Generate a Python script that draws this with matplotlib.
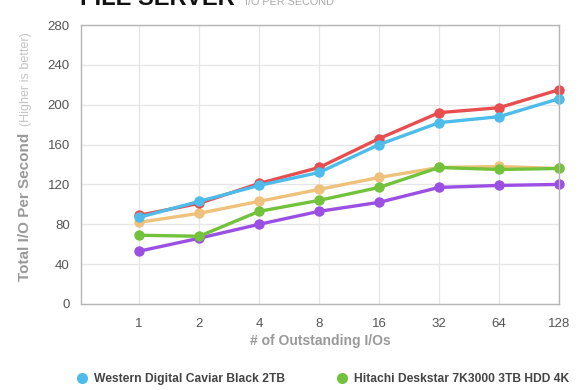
import matplotlib.pyplot as plt
from matplotlib.lines import Line2D

plt.rcParams["font.family"] = ["Liberation Sans", "DejaVu Sans"]

categorias = ["1", "2", "4", "8", "16", "32", "64", "128"]

vermelho = [89, 101, 121, 137, 166, 192, 197, 215]
azul = [87, 103, 119, 132, 160, 182, 188, 206]
laranja = [82, 91, 103, 115, 127, 137, 138, 136]
verde = [69, 68, 93, 104, 117, 137, 135, 136]
roxo = [53, 66, 80, 93, 102, 117, 119, 120]

nome_azul = "Western Digital Caviar Black 2TB"
nome_verde = "Hitachi Deskstar 7K3000 3TB HDD 4K"

cores = {
    "vermelho": "#e84d4f",
    "azul": "#4dbcea",
    "laranja": "#efc27c",
    "verde": "#72c23c",
    "roxo": "#9b4fe3",
}

fig = plt.figure(figsize=(5.8, 3.9), dpi=100)
ax = fig.add_axes([81 / 580, 1 - 304 / 390, (559 - 81) / 580, (304 - 25) / 390])

xs = list(range(len(categorias)))
series = [
    (roxo, cores["roxo"]),
    (laranja, cores["laranja"]),
    (verde, cores["verde"]),
    (vermelho, cores["vermelho"]),
    (azul, cores["azul"]),
]
for valores, cor in series:
    ax.plot(xs, valores, color=cor, lw=2.4, marker="o", ms=7.5,
            markeredgewidth=0, solid_capstyle="round", clip_on=False)

ax.set_xlim(-0.97, 7)
ax.set_ylim(0, 280)
ax.set_yticks(range(0, 281, 40))
ax.set_xticks(xs)
ax.set_xticklabels(categorias)
ax.tick_params(length=0, labelsize=9.5, colors="#555555", pad=10)
ax.tick_params(axis="y", pad=8)
ax.grid(True, color="#e6e6e6", lw=0.9)
ax.set_axisbelow(True)
for lado in ax.spines.values():
    lado.set_color("#b5b5b5")
    lado.set_linewidth(1)

fig.text(0.5 * (81 + 559) / 580, 1 - 341 / 390, "# of Outstanding I/Os",
         ha="center", va="center", fontsize=10, fontweight="bold", color="#999999")

fig.text(25 / 580, 1 - 207 / 390, "Total I/O Per Second", rotation=90,
         ha="center", va="center", fontsize=11, fontweight="bold", color="#999999")
fig.text(26 / 580, 1 - 79 / 390, "(Higher is better)", rotation=90,
         ha="center", va="center", fontsize=9, color="#c4c4c4")

fig.text(80 / 580, 1 - 5 / 390, "FILE SERVER", ha="left", va="baseline",
         fontsize=17, fontweight="bold", color="#111111")
fig.text(245 / 580, 1 - 5 / 390, "I/O PER SECOND", ha="left", va="baseline",
         fontsize=7.8, color="#aaaaaa")

itens = [
    Line2D([], [], ls="none", marker="o", ms=8, markeredgewidth=0, color=cores["azul"]),
    Line2D([], [], ls="none", marker="o", ms=8, markeredgewidth=0, color=cores["verde"]),
]
leg = fig.legend(itens, [nome_azul, nome_verde], ncol=2, loc="center left",
                 bbox_to_anchor=(65 / 580, 1 - 379 / 390), frameon=False,
                 handletextpad=0.5, columnspacing=4.2, handlelength=1,
                 prop={"size": 8.7, "weight": "bold"})
for t in leg.get_texts():
    t.set_color("#444444")

fig.savefig("out.png", dpi=100)
